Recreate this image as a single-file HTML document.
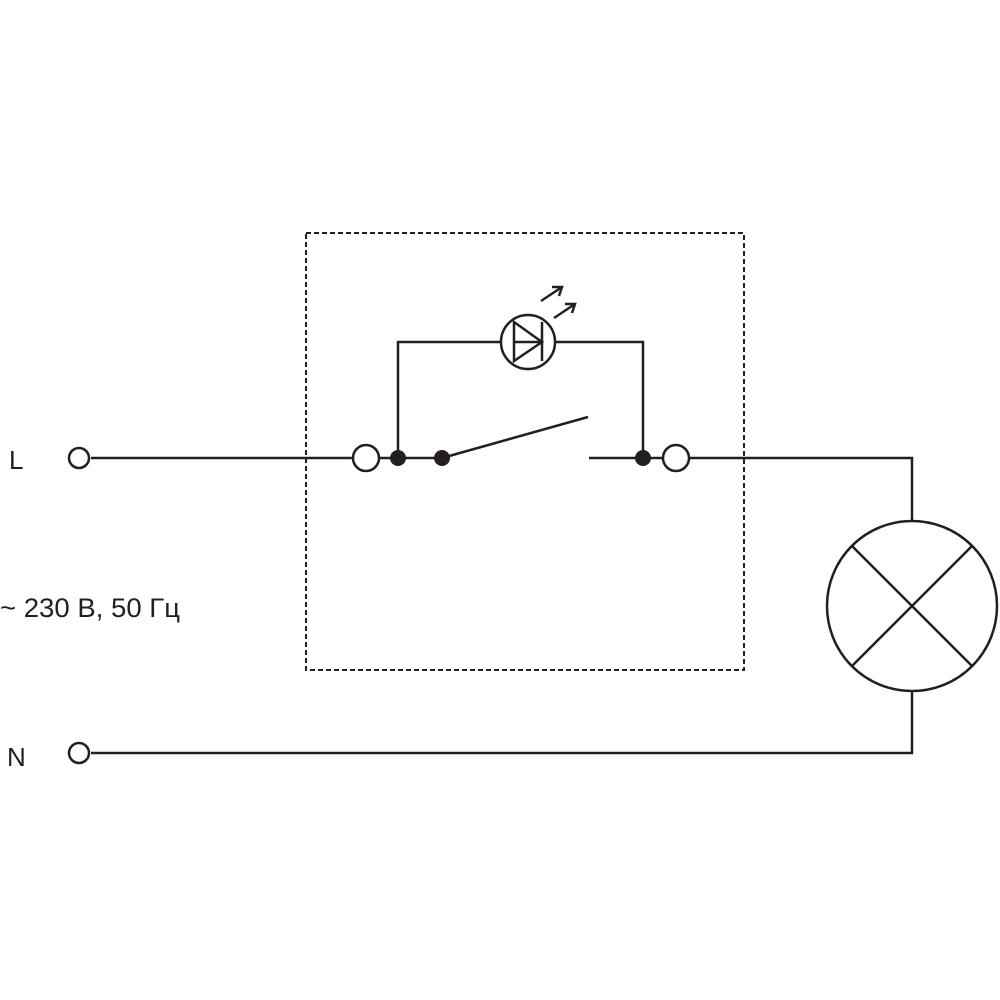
<!DOCTYPE html>
<html><head><meta charset="utf-8"><style>
html,body{margin:0;padding:0;background:#fff;}
svg{display:block;}
text{font-family:"Liberation Sans","DejaVu Sans",sans-serif;fill:#231f20;}
</style></head><body>
<svg width="1000" height="1000" viewBox="0 0 1000 1000">
<g stroke="#231f20" stroke-width="2.5" fill="none">
<rect x="306" y="233" width="438" height="437" stroke-dasharray="5,3" stroke-width="2"/>
<line x1="91" y1="458" x2="353" y2="458"/>
<line x1="379" y1="458" x2="442" y2="458"/>
<line x1="442" y1="458" x2="588" y2="417"/>
<line x1="589" y1="458" x2="663" y2="458"/>
<polyline points="689,458 912,458 912,521"/>
<polyline points="912,691 912,753 91,753"/>
<polyline points="398,458 398,342 501,342"/>
<polyline points="555,342 643,342 643,458"/>
<circle cx="528" cy="342" r="27"/>
<polygon points="514,322 514,361 542,342"/>
<line x1="514" y1="342" x2="542" y2="342"/>
<line x1="542" y1="322" x2="542" y2="361"/>
<line x1="541" y1="301" x2="562" y2="287"/>
<polyline points="552,287 562,287 559,296"/>
<line x1="554" y1="318" x2="575" y2="304"/>
<polyline points="565,304 575,304 572,313"/>
<circle cx="366" cy="458" r="13" fill="#fff"/>
<circle cx="676" cy="458" r="13" fill="#fff"/>
<circle cx="79" cy="458" r="10" fill="#fff"/>
<circle cx="79" cy="753" r="10" fill="#fff"/>
<circle cx="912" cy="606" r="85" fill="#fff"/>
<line x1="852" y1="546" x2="972" y2="666"/>
<line x1="972" y1="546" x2="852" y2="666"/>
</g>
<g fill="#231f20">
<circle cx="398" cy="458" r="8"/>
<circle cx="442" cy="458" r="8"/>
<circle cx="643" cy="458" r="8"/>
</g>
<text x="9" y="469" font-size="26">L</text>
<text x="7" y="766" font-size="26">N</text>
<text x="0" y="617" font-size="27" textLength="180" lengthAdjust="spacingAndGlyphs">~ 230 В, 50 Гц</text>
</svg>
</body></html>
